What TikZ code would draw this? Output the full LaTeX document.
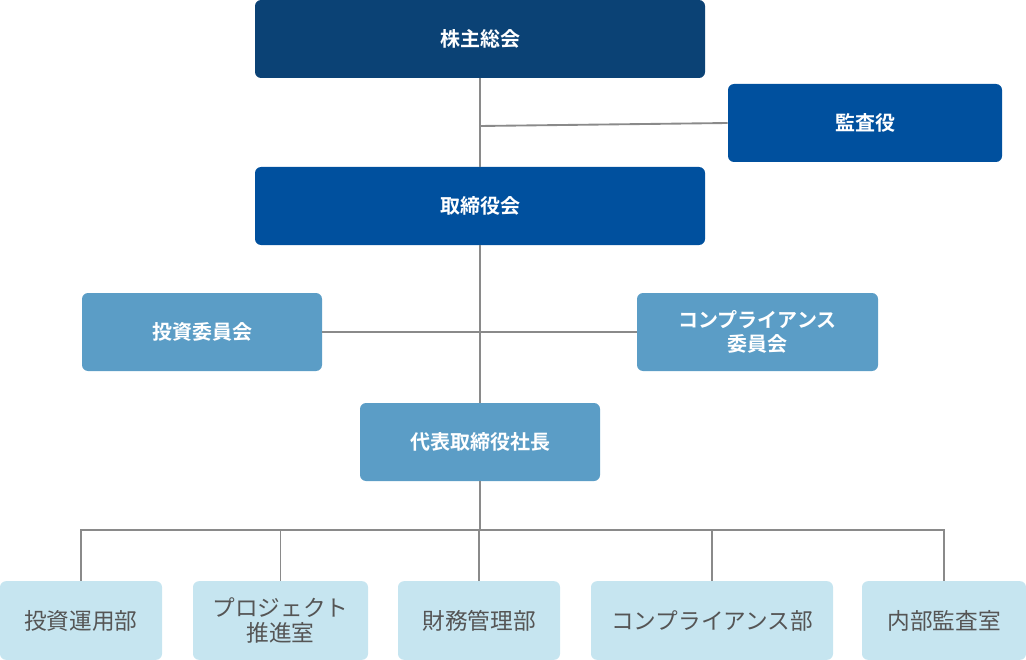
\documentclass[tikz,border=0pt]{standalone}
\usepackage{fontspec}
\newfontfamily\cjk{Noto Sans CJK JP}
\newfontfamily\cjkb{Noto Sans CJK JP Bold}
\definecolor{navy}{HTML}{0B4275}
\definecolor{blue}{HTML}{00509E}
\definecolor{mid}{HTML}{5B9DC6}
\definecolor{pale}{HTML}{C6E5F0}
\definecolor{txt}{HTML}{555555}
\definecolor{ln}{HTML}{8A8A8A}
\begin{document}
\begin{tikzpicture}[x=0.75pt,y=-0.75pt,
 box/.style={rounded corners=4.5pt,inner sep=0pt,align=center},
 top/.style={box,text=white,font=\cjkb\fontsize{15}{18}\selectfont},
 low/.style={box,fill=pale,text=txt,font=\cjk\fontsize{17}{19}\selectfont},
 con/.style={draw=ln,line width=1.4pt}]
\useasboundingbox (0,0) rectangle (1026,660);
\node[top,fill=navy,minimum width=337.5pt,minimum height=58.5pt] (a) at (480,39) {株主総会};
\node[top,fill=blue,minimum width=205.5pt,minimum height=58.5pt] (k) at (865,123) {監査役};
\node[top,fill=blue,minimum width=337.5pt,minimum height=58.5pt] (b) at (480,206) {取締役会};
\node[top,fill=mid,minimum width=180pt,minimum height=58.5pt] (c) at (202,332) {投資委員会};
\node[top,fill=mid,minimum width=180.75pt,minimum height=58.5pt] (d) at (757.5,332) {コンプライアンス\\委員会};
\node[top,fill=mid,minimum width=180pt,minimum height=58.5pt] (e) at (480,442) {代表取締役社長};
\node[low,minimum width=121.5pt,minimum height=59pt] (f1) at (81,620.5) {投資運用部};
\node[low,minimum width=131.25pt,minimum height=59pt] (f2) at (280.5,620.5) {プロジェクト\\推進室};
\node[low,minimum width=121.5pt,minimum height=59pt] (f3) at (479,620.5) {財務管理部};
\node[low,minimum width=181.5pt,minimum height=59pt] (f4) at (712,620.5) {コンプライアンス部};
\node[low,minimum width=123pt,minimum height=59pt] (f5) at (944,620.5) {内部監査室};
\coordinate (j1) at (480,126);
\coordinate (j2) at (480,332);
\coordinate (j3) at (480,530);
\draw[con] (a.south) -- (b.north);
\draw[con] (j1) -- (k.west);
\draw[con] (b.south) -- (e.north);
\draw[con] (c.east) -- (d.west);
\draw[con] (e.south) -- (j3);
\draw[con] (f1.north) |- (j3) -| (f5.north);
\draw[con] (f2.north) -- (f2.north|-j3);
\draw[con] (f3.north) -- (f3.north|-j3);
\draw[con] (f4.north) -- (f4.north|-j3);
\end{tikzpicture}
\end{document}
